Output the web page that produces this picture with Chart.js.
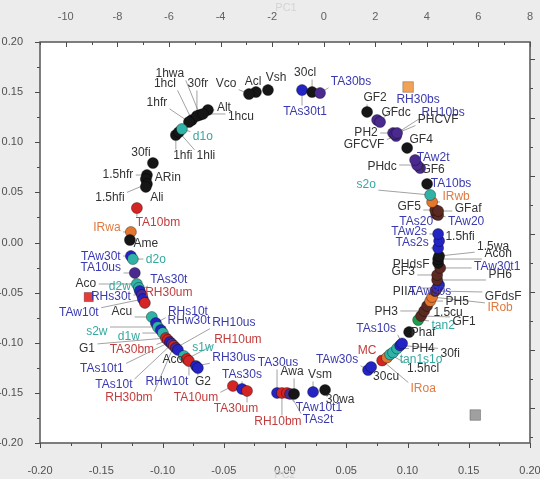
<!DOCTYPE html>
<html>
<head>
<meta charset="utf-8">
<script src="https://cdn.jsdelivr.net/npm/chart.js@4/dist/chart.umd.min.js"></script>
<style>
html, body { margin: 0; padding: 0; background: #ececec; }
#c { display: block; }
</style>
</head>
<body>
<canvas id="c" width="540" height="479"></canvas>
<script>
// sample names, PC scores, and colour category of each marker / label
var pointNames = ['1hwa','1hcl','30fr','1hfr','Alt','1hcu','1hfi','1hli','d1o','30fi',
  '1.5hfr','ARin','1.5hfi','Ali','TA10bm','IRwa','Ame','TAw30t','d2o','TA10us',
  'Aco','d2w','TAs30t','RHs30t','TAw10t','RH30um',
  'Acu','RHs10t','s2w','RHw30t','d1w','G1','TA30bm','TAs10t1','TAs10t','RH30bm',
  'RH10us','Aco','s1w','RH10um','RHw10t','RH30us','G2',
  'TA10um','TAs30s','TA30um','TA30us','RH10bm','TAw10t1','TAs2t','Awa','Vsm','30wa',
  'TAw30s','30cu','IRoa','MC','1.5hcl','tan1s1o','PH4','30fi','TAs10s','Phaf',
  'tan2','GF1','PH3','1.5cu','PH5','IRob','GFdsF','PIIA','TAw30s','PH6',
  'GF3','TAw30t1','PHdsF','Acon','1.5wa','TAs2s','1.5hfi','TAw2s','TAs20','TAw20',
  'GF5','GFaf','IRwb','s2o','TA10bs','GF6','PHdc','TAw2t','GF4','PH2',
  'GFCVF','PHCVF','RH10bs','GFdc','RH30bs','GF2','TAs30t1','30cl','TA30bs','Vsh',
  'Acl','Vco'];
var pcX = [-0.0695,-0.0760,-0.0719,-0.0784,-0.0629,-0.0670,-0.0891,-0.0866,-0.0842,-0.1078,
  -0.1127,-0.1136,-0.1127,-0.1136,-0.1209,-0.1258,-0.1266,-0.1258,-0.1242,-0.1226,
  -0.1209,-0.1193,-0.1185,-0.1168,-0.1160,-0.1144,
  -0.1087,-0.1054,-0.1038,-0.1013,-0.0997,-0.0972,-0.0956,-0.0940,-0.0923,-0.0907,
  -0.0891,-0.0874,-0.0825,-0.0801,-0.0784,-0.0727,-0.0711,
  -0.0425,-0.0351,-0.0310,-0.0065,-0.0025,0.0016,0.0041,0.0074,0.0229,0.0327,
  0.0678,0.0703,0.0793,0.0833,0.0858,0.0882,0.0915,0.0940,0.0956,0.1013,
  0.1087,0.1111,0.1136,0.1160,0.1185,0.1201,0.1226,0.1242,0.1258,0.1242,
  0.1242,0.1267,0.1250,0.1250,0.1258,0.1250,0.1258,0.1250,0.1234,0.1250,
  0.1226,0.1250,0.1201,0.1185,0.1160,0.1103,0.1078,0.1062,0.0997,0.0882,
  0.0907,0.0899,0.0915,0.0752,0.0776,0.0670,0.0139,0.0221,0.0286,-0.0139,
  -0.0237,-0.0294];
var pcY = [0.1272,0.1222,0.1262,0.1202,0.1322,0.1282,0.1072,0.1102,0.1132,0.0793,
  0.0673,0.0633,0.0584,0.0554,0.0344,0.0105,0.0025,-0.0135,-0.0165,-0.0304,
  -0.0414,-0.0454,-0.0484,-0.0524,-0.0564,-0.0603,
  -0.0743,-0.0803,-0.0843,-0.0873,-0.0903,-0.0953,-0.0973,-0.0993,-0.1012,-0.1032,
  -0.1052,-0.1072,-0.1132,-0.1162,-0.1182,-0.1232,-0.1252,
  -0.1431,-0.1461,-0.1481,-0.1501,-0.1501,-0.1501,-0.1511,-0.1511,-0.1491,-0.1471,
  -0.1272,-0.1242,-0.1177,-0.1147,-0.1117,-0.1097,-0.1057,-0.1027,-0.1007,-0.0893,
  -0.0773,-0.0733,-0.0683,-0.0633,-0.0584,-0.0544,-0.0484,-0.0454,-0.0424,-0.0374,
  -0.0324,-0.0254,-0.0204,-0.0165,-0.0135,-0.0055,0.0015,0.0085,0.0284,0.0274,
  0.0324,0.0314,0.0404,0.0474,0.0584,0.0743,0.0773,0.0823,0.0943,0.1092,
  0.1062,0.1082,0.1092,0.1222,0.1202,0.1302,0.1521,0.1501,0.1491,0.1521,
  0.1501,0.1481];
var pointGroup = ['k','k','k','k','k','k','k','k','c','k',
  'k','k','k','k','r','o','k','b','c','p',
  'c','c','b','p','b','r',
  'c','b','c','b','c','r','r','b','p','r',
  'p','b','c','r','r','b','b',
  'r','b','r','b','r','r','p','k','b','k',
  'b','b','r','o','c','c','c','b','b','k',
  'g','n','n','n','o','o','n','p','b','n',
  'n','n','k','k','k','b','b','b','n','n',
  'n','n','o','c','k','p','p','p','k','p',
  'p','p','p','p','p','k','b','k','p','k',
  'k','k'];
var labelGroup = ['k','k','k','k','k','k','k','k','c','k',
  'k','k','k','k','r','o','k','b','c','b',
  'k','c','b','b','b','r',
  'k','b','c','b','c','k','r','b','b','r',
  'b','k','c','r','b','b','k',
  'r','b','r','b','r','b','b','k','k','k',
  'b','k','o','r','k','c','k','k','b','k',
  'c','k','k','k','k','o','k','k','b','k',
  'k','b','k','k','k','b','k','b','b','b',
  'k','k','o','c','b','k','k','b','k','k',
  'k','k','b','k','b','k','b','k','b','k',
  'k','k'];
// reference squares
var squareX = [0.1005, -0.1602, 0.1553];
var squareY = [0.1551, -0.0544, -0.1721];
var squareGroup = ['o', 'r', 'gray'];
// axis ticks
var pcTicks = [-0.20, -0.15, -0.10, -0.05, 0.00, 0.05, 0.10, 0.15, 0.20];
var topTicks = [-10, -8, -6, -4, -2, 0, 2, 4, 6, 8];
var rightTicks = [-3, -2, -1, 0, 1, 2, 3];

// label placement (pixel shift from the marker), layout only
var labelShift = [[-30,-41],[-27,-36],[1,-32],[-32,-19],[16,-2],[38,3],[7,21],[27,24],[21,8],[-12,-10],
  [-29,0],[22,-1],[-37,14],[11,11],[21,15],[-24,-4],[16,4],[-30,1],[23,1],[-34,-5],
  [-51,0],[-19,-1],[29,-11],[-31,2],[-64,14],[24,-10],
  [-30,-5],[32,-11],[-61,5],[28,-9],[-34,4],[-79,11],[-36,10],[-68,27],[-58,41],[-45,52],
  [58,-25],[-5,10],[19,-8],[51,-19],[-22,21],[38,-8],[5,14],
  [-37,12],[0,-14],[-11,18],[1,-30],[-4,29],[32,15],[28,26],[-2,-22],[7,-17],[15,10],
  [-31,-10],[15,10],[41,28],[-20,-7],[33,14],[28,7],[26,0],[50,8],[-26,-15],[14,1],
  [25,6],[43,6],[-38,1],[21,7],[27,1],[68,11],[68,6],[-33,4],[-9,7],[63,-5],
  [-34,-3],[57,-1],[-27,2],[60,-5],[54,-9],[-26,-5],[21,-4],[-29,-2],[-20,8],[28,7],
  [-26,-3],[30,-2],[24,-5],[-64,-10],[24,0],[13,2],[-35,2],[18,-2],[14,-8],[-27,0],
  [-32,9],[43,-14],[46,-20],[19,-7],[38,-22],[8,-14],[3,22],[-7,-19],[31,-11],[8,-12],
  [-3,-10],[-23,-10]];

var dotColors = { k: '#161616', b: '#2424c4', p: '#4a2a8e', r: '#d42424', o: '#e5762e',
  c: '#30b3a6', g: '#1f9e50', n: '#5a2a22' };
var textColors = { k: '#333333', b: '#3a3ab0', r: '#c23c3c', o: '#e07a40', c: '#36a8a0' };
var squareColors = { o: '#f2a257', r: '#e23c3c', gray: '#a0a0a0' };
var FONT = "'Liberation Sans', Arial, sans-serif";

var points = pcX.map(function (v, i) { return { x: v, y: pcY[i] }; });
var squares = squareX.map(function (v, i) { return { x: v, y: squareY[i] }; });

var decor = {
  id: 'decor',
  beforeDraw: function (chart) {
    var ctx = chart.ctx, a = chart.chartArea;
    ctx.save();
    ctx.fillStyle = '#ececec';
    ctx.fillRect(0, 0, chart.width, chart.height);
    ctx.fillStyle = '#ffffff';
    ctx.fillRect(a.left, a.top, a.right - a.left, a.bottom - a.top);
    ctx.restore();
  },
  beforeDatasetsDraw: function (chart) {
    var ctx = chart.ctx, xs = chart.scales.x, ys = chart.scales.y;
    ctx.save();
    ctx.font = '12px ' + FONT;
    ctx.strokeStyle = '#8a8a8a';
    ctx.lineWidth = 0.8;
    pointNames.forEach(function (name, i) {
      var px = xs.getPixelForValue(pcX[i]), py = ys.getPixelForValue(pcY[i]);
      var lx = px + labelShift[i][0], ly = py + labelShift[i][1];
      var w = ctx.measureText(name).width / 2 + 1, h = 5;
      var cx = Math.max(lx - w, Math.min(px, lx + w));
      var cy = Math.max(ly - h, Math.min(py, ly + h));
      var d = Math.hypot(cx - px, cy - py);
      if (d > 6) {
        ctx.beginPath();
        ctx.moveTo(px, py);
        ctx.lineTo(cx - (cx - px) / d * 1.5, cy - (cy - py) / d * 1.5);
        ctx.stroke();
      }
    });
    ctx.restore();
  },
  afterDatasetsDraw: function (chart) {
    var ctx = chart.ctx, xs = chart.scales.x, ys = chart.scales.y;
    ctx.save();
    ctx.font = '12px ' + FONT;
    ctx.textAlign = 'center';
    ctx.textBaseline = 'middle';
    pointNames.forEach(function (name, i) {
      var px = xs.getPixelForValue(pcX[i]), py = ys.getPixelForValue(pcY[i]);
      ctx.fillStyle = textColors[labelGroup[i]];
      ctx.fillText(name, px + labelShift[i][0], py + labelShift[i][1]);
    });
    ctx.restore();
  },
  afterDraw: function (chart) {
    var ctx = chart.ctx, a = chart.chartArea, s = chart.scales;
    ctx.save();
    ctx.strokeStyle = '#4a4a4a';
    ctx.lineWidth = 1;
    function seg(x1, y1, x2, y2) { ctx.beginPath(); ctx.moveTo(x1, y1); ctx.lineTo(x2, y2); ctx.stroke(); }
    for (var k = -8; k <= 8; k++) {
      var len = k % 2 === 0 ? 5 : 3;
      var xp = Math.round(s.x.getPixelForValue(k * 0.025)) + 0.5;
      seg(xp, a.bottom, xp, a.bottom + len);
      var yp = Math.round(s.y.getPixelForValue(k * 0.025)) + 0.5;
      seg(a.left, yp, a.left - len, yp);
    }
    for (var t = -11; t <= 8; t++) {
      var tp = Math.round(s.x2.getPixelForValue(t)) + 0.5;
      seg(tp, a.top, tp, a.top + (t % 2 === 0 ? 5 : 3));
    }
    for (var r = -3.5; r <= 3; r += 0.5) {
      var rp = Math.round(s.y2.getPixelForValue(r)) + 0.5;
      seg(a.right, rp, a.right + (r % 1 === 0 ? 5 : 3), rp);
    }
    ctx.lineWidth = 1.5;
    ctx.strokeStyle = '#555555';
    ctx.strokeRect(a.left, a.top, a.right - a.left, a.bottom - a.top);
    ctx.font = '11px ' + FONT;
    ctx.fillStyle = '#d4d4d4';
    ctx.textAlign = 'center';
    ctx.textBaseline = 'middle';
    ctx.fillText('PC1', 286, 8);
    ctx.fillText('PC2', 285, 475);
    ctx.restore();
  }
};

function fixTicks(list) {
  return function (scale) { scale.ticks = list.map(function (v) { return { value: v }; }); };
}
// fixed axis box size, no extra room for overhanging tick labels
function fixSize(prop, n) {
  return function (scale) {
    scale[prop] = n;
    scale.paddingLeft = 0; scale.paddingRight = 0;
    scale.paddingTop = 0; scale.paddingBottom = 0;
  };
}

new Chart(document.getElementById('c'), {
  type: 'scatter',
  data: {
    datasets: [{
      data: points,
      pointRadius: 5.5,
      pointHoverRadius: 5.5,
      borderWidth: 1,
      backgroundColor: function (c) { return dotColors[pointGroup[c.dataIndex]]; },
      borderColor: 'rgba(0,0,0,0.35)'
    }, {
      data: squares,
      pointStyle: 'rect',
      pointRadius: function (c) { return c.dataIndex === 1 ? 6.5 : 7.5; },
      borderWidth: 1,
      backgroundColor: function (c) { return squareColors[squareGroup[c.dataIndex]]; },
      borderColor: 'rgba(0,0,0,0.25)'
    }]
  },
  options: {
    responsive: false,
    animation: false,
    events: [],
    layout: { padding: 0 },
    plugins: { legend: { display: false }, tooltip: { enabled: false } },
    scales: {
      x: {
        type: 'linear', position: 'bottom', min: -0.2, max: 0.2,
        afterBuildTicks: fixTicks(pcTicks), afterFit: fixSize('height', 36),
        grid: { display: false }, border: { display: false },
        ticks: { padding: 13, color: '#505050', font: { family: FONT, size: 11 },
          callback: function (v) { return v.toFixed(2); } }
      },
      y: {
        type: 'linear', position: 'left', min: -0.2, max: 0.2,
        afterBuildTicks: fixTicks(pcTicks), afterFit: fixSize('width', 40),
        grid: { display: false }, border: { display: false },
        ticks: { padding: 9, color: '#505050', font: { family: FONT, size: 11 },
          callback: function (v) { return v.toFixed(2); } }
      },
      x2: {
        type: 'linear', position: 'top', min: -11, max: 8,
        afterBuildTicks: fixTicks(topTicks), afterFit: fixSize('height', 42),
        grid: { display: false }, border: { display: false },
        ticks: { padding: 10, color: '#606060', font: { family: FONT, size: 11 } }
      },
      y2: {
        type: 'linear', position: 'right', min: -3.6, max: 3.3,
        afterBuildTicks: fixTicks(rightTicks), afterFit: fixSize('width', 10),
        grid: { display: false }, border: { display: false },
        ticks: { display: false }
      }
    }
  },
  plugins: [decor]
});
</script>
</body>
</html>
